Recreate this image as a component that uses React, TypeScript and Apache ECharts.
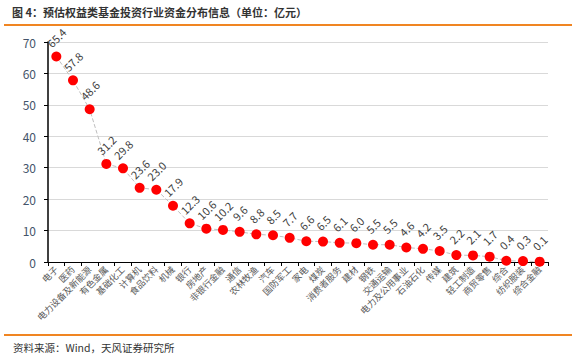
import React, { useEffect, useRef } from "react";
import * as echarts from "echarts";

const categories = ["电子", "医药", "电力设备及新能源", "有色金属", "基础化工", "计算机", "食品饮料", "机械", "银行", "房地产", "非银行金融", "通信", "农林牧渔", "汽车", "国防军工", "家电", "煤炭", "消费者服务", "建材", "钢铁", "交通运输", "电力及公用事业", "石油石化", "传媒", "建筑", "轻工制造", "商贸零售", "综合", "纺织服装", "综合金融"];
const values = [65.4, 57.8, 48.6, 31.2, 29.8, 23.6, 23.0, 17.9, 12.3, 10.6, 10.2, 9.6, 8.8, 8.5, 7.7, 6.6, 6.5, 6.1, 6.0, 5.5, 5.5, 4.6, 4.2, 3.5, 2.2, 2.1, 1.7, 0.4, 0.3, 0.1];
const yTicks = [0, 10, 20, 30, 40, 50, 60, 70];

const title = "图 4：预估权益类基金投资行业资金分布信息（单位：亿元）";
const source = "资料来源：Wind，天风证券研究所";

export default function App() {
  const ref = useRef<HTMLDivElement>(null);
  useEffect(() => {
    const chart = echarts.init(ref.current!, null, { renderer: "svg" });
    const font = "'Noto Sans CJK SC', sans-serif";
    chart.setOption({
      animation: false,
      textStyle: { fontFamily: font },
      grid: { left: 48, right: 28, top: 42, bottom: 99 },
      graphic: [
        { type: "text", left: 12, top: 6, style: { text: title, font: `bold 11px ${font}`, fill: "#333" } },
        { type: "rect", shape: { x: 4, y: 24, width: 568, height: 2 }, style: { fill: "#F08522" } },
        { type: "rect", shape: { x: 4, y: 334, width: 568, height: 2 }, style: { fill: "#F08522" } },
        { type: "text", left: 13, top: 342, style: { text: source, font: `10.5px ${font}`, fill: "#333" } },
      ],
      xAxis: {
        type: "category",
        data: categories,
        boundaryGap: true,
        axisLine: { lineStyle: { color: "#000", width: 1 } },
        axisTick: { show: true, alignWithLabel: false, length: 4, lineStyle: { color: "#000" } },
        axisLabel: { rotate: 45, interval: 0, fontSize: 9, color: "#595959", margin: 6 },
      },
      yAxis: {
        type: "value",
        min: yTicks[0],
        max: yTicks[yTicks.length - 1],
        interval: 10,
        axisLine: { show: true, lineStyle: { color: "#000", width: 1.5 } },
        axisTick: { show: true, length: 4, lineStyle: { color: "#000" } },
        axisLabel: { fontSize: 12, color: "#44546A", margin: 12 },
        splitLine: { lineStyle: { color: "#D9D9D9" } },
      },
      series: [
        {
          type: "line",
          data: values,
          symbol: "circle",
          symbolSize: 10,
          itemStyle: { color: "#FF0000" },
          lineStyle: { color: "#BFBFBF", width: 1, type: "dashed" },
          label: {
            show: true,
            position: "top",
            rotate: 45,
            align: "center",
            verticalAlign: "middle",
            distance: 14,
            fontSize: 11,
            color: "#404040",
            formatter: (p: any) => p.value.toFixed(1),
          },
        },
      ],
    });
    return () => chart.dispose();
  }, []);
  return <div ref={ref} style={{ width: 576, height: 361, position: "absolute", left: 0, top: 0 }} />;
}
